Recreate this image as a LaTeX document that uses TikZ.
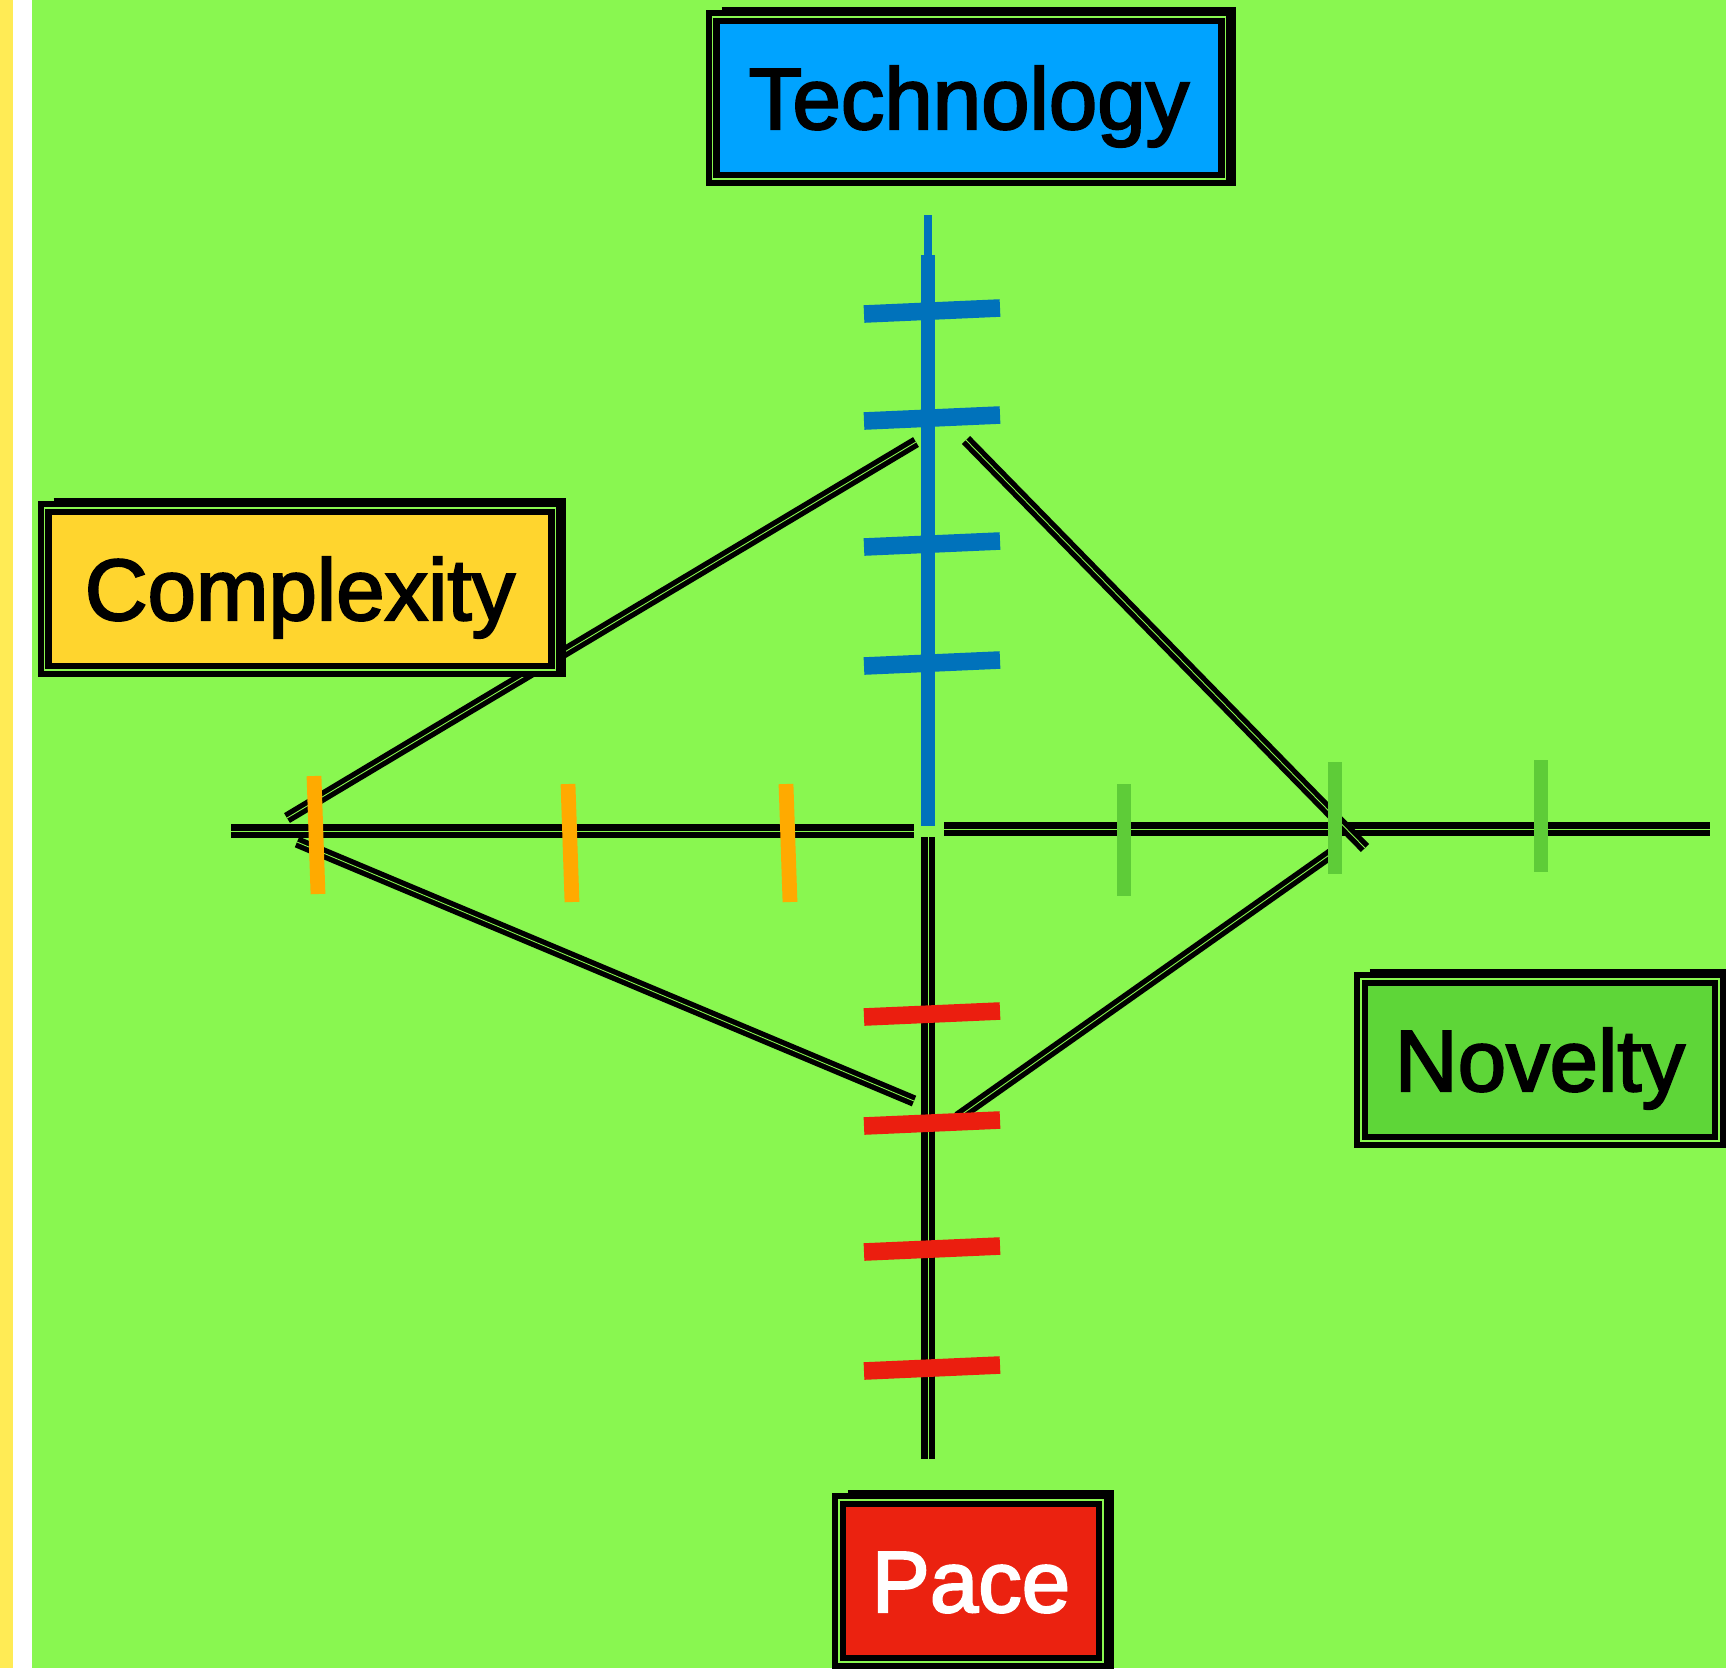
\documentclass[tikz,border=0pt]{standalone}
\usepackage{fontspec}
\usetikzlibrary{calc}
\newfontfamily\labelfont[FakeBold=2.4]{Liberation Sans}
\definecolor{grass}{RGB}{137,247,80}
\definecolor{paper}{RGB}{255,235,85}
\definecolor{sky}{RGB}{0,163,255}
\definecolor{sun}{RGB}{255,213,46}
\definecolor{meadow}{RGB}{94,214,56}
\definecolor{poppy}{RGB}{235,34,16}
\definecolor{techblue}{RGB}{0,114,187}
\definecolor{amber}{RGB}{255,170,0}
\definecolor{leaf}{RGB}{94,204,56}
\definecolor{pacered}{RGB}{235,30,15}

\begin{document}
\begin{tikzpicture}[x=0.01cm, y=-0.01cm,
  tag/.style={rectangle, draw=black, double=grass, double distance=0.35pt,
    line width=1.8pt, inner sep=0pt, minimum height=1.62cm,
    text height=0.62cm, text depth=0pt,
    font=\labelfont\fontsize{24.75}{28}\selectfont},
  axis/.style={draw=black, double=grass, double distance=0.25pt, line width=1.9pt},
  edge/.style={draw=black, double=grass, double distance=0.25pt, line width=1.5pt},
  tick/.style={line width=5pt},
  gauge/.style={line width=4.2pt}
]
% page and background
\fill[paper] (0,0) rectangle (13,1668);
\fill[white] (13,0) rectangle (32,1668);
\fill[grass] (32,0) rectangle (1726,1668);
\useasboundingbox (0,0) rectangle (1726,1668);

% axis ends
\coordinate (top) at (928,215);
\coordinate (mid-up) at (928,826);
\coordinate (mid-down) at (928,837);
\coordinate (bottom) at (928,1459);
\coordinate (left) at (231,831);
\coordinate (mid-left) at (914,831);
\coordinate (mid-right) at (944,829);
\coordinate (right) at (1710,829);

% diamond corners
\coordinate (t) at (940,436);
\coordinate (c) at (290,828);
\coordinate (n) at (1348,846);
\coordinate (p) at (936,1108);

% axes
\draw[line width=2pt, techblue] (top) -- ($(top)+(0,60)$);
\draw[line width=3.8pt, techblue] ($(top)+(0,40)$) -- (mid-up);
\draw[axis] (mid-down) -- (bottom);
\draw[axis] (left) -- (mid-left);
\draw[axis] (mid-right) -- (right);

% diamond
\draw[edge] ($(t)+(-24,6)$) -- ($(c)+(-3,-10)$);
\draw[edge] ($(c)+(7,14)$) -- ($(p)+(-22,-7)$);
\draw[edge] ($(t)+(26,4)$) -- ($(n)+(17,2)$);
\draw[edge] ($(n)+(-16,7)$) -- ($(p)+(22,9)$);

% scale marks
\foreach \y in {311,418,544,663}
  \draw[tick, techblue] (864,\y+3) -- (1000,\y-3);
\foreach \y in {1014,1123,1249,1368}
  \draw[tick, pacered] (864,\y+3) -- (1000,\y-3);
\foreach \x/\a in {316/776,570/784,788/784}
  \draw[gauge, amber] (\x-2,\a) -- (\x+2,\a+118);
\foreach \x/\a in {1124/784,1335/762,1541/760}
  \draw[gauge, leaf] (\x,\a) -- (\x,\a+112);

% labels
\node[tag, fill=sky, minimum width=5.12cm] (tech) at (969,98) {Technology};
\node[tag, fill=sun, minimum width=5.10cm] (cplx) at (300,589) {Complexity};
\node[tag, fill=meadow, minimum width=3.58cm] (nov) at (1540,1060) {Novelty};
\node[tag, fill=poppy, text=white, minimum width=2.64cm] (pace) at (971,1581) {Pace};

% heavier strokes along the top and right of each label
\foreach \b in {tech,cplx,nov,pace}
  \draw[line width=2.2pt] ([shift={(12,-3)}]\b.north west)
    -- ([shift={(4,-3)}]\b.north east) -- ([shift={(4,4)}]\b.south east);
\end{tikzpicture}
\end{document}
